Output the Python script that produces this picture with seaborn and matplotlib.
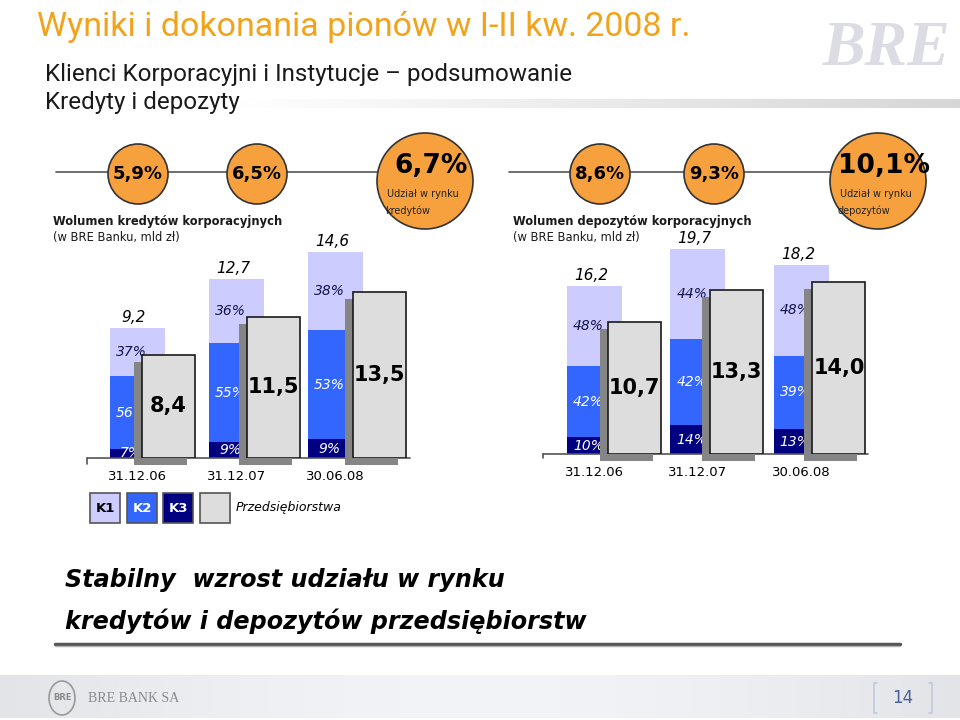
import numpy as np
import matplotlib.pyplot as plt
import matplotlib.transforms as mtransforms
from matplotlib.patches import Circle, Rectangle, Ellipse
import pandas as pd
import seaborn as sns

sns.set_theme(style="white")
plt.rcParams['font.family'] = ['DejaVu Sans']

# dane
daty = ["31.12.06", "31.12.07", "30.06.08"]
kategorie = ["K1", "K2", "K3", "Przedsiębiorstwa"]

# kredyty (mld zł, udzialy K1/K2/K3 w %)
kred_total = [9.2, 12.7, 14.6]
kred_k1 = [37, 36, 38]
kred_k2 = [56, 55, 53]
kred_k3 = [7, 9, 9]
kred_przeds = [8.4, 11.5, 13.5]
kred_udzial = [5.9, 6.5, 6.7]

# depozyty
dep_total = [16.2, 19.7, 18.2]
dep_k1 = [48, 44, 48]
dep_k2 = [42, 42, 39]
dep_k3 = [10, 14, 13]
dep_przeds = [10.7, 13.3, 14.0]
dep_udzial = [8.6, 9.3, 10.1]

W, H = 960, 720
fig = plt.figure(figsize=(9.6, 7.2), dpi=100)
fig.patch.set_facecolor("white")

C_K1, C_K2, C_K3 = "#ccccff", "#3366ff", "#000080"
C_PRZ, C_SHADOW = "#dddddd", "#858585"
ORANGE = "#f7a13e"
HEAD_FONT = ["Roboto", "DejaVu Sans"]


def pl(v):
    return f"{v:.1f}".replace(".", ",")


def px_axes(left, baseline, width, height):
    ax = fig.add_axes([left / W, (H - baseline) / H, width / W, height / H])
    ax.patch.set_alpha(0)
    ax.set_axis_off()
    return ax


def wykres(total, k1, k2, k3, przeds, st_c0, st_sp, st_ppu, pr_c0, pr_sp, baseline, base_end):
    total = np.array(total)
    k2 = np.array(k2)
    k3 = np.array(k3)
    ymax = 22
    ax = px_axes(st_c0 - st_sp / 2, baseline, 3 * st_sp, ymax * st_ppu)
    lower = total * k3 / 100
    middle = total * (k2 + k3) / 100
    bw = 55 / st_sp
    for vals, col in [(total, C_K1), (middle, C_K2), (lower, C_K3)]:
        sns.barplot(x=daty, y=vals, color=col, saturation=1, width=bw, ax=ax,
                    linewidth=0, errorbar=None)
    ax.set_xlim(-0.5, 2.5)
    ax.set_ylim(0, ymax)
    ax.set_axis_off()
    # os pozioma
    ax.axhline(0, xmin=0, xmax=(base_end - (st_c0 - st_sp / 2)) / (3 * st_sp),
               color="#555555", lw=1.2, clip_on=False)
    ax.plot([0, 0], [0, -0.4], transform=ax.get_yaxis_transform(), color="#555555",
            lw=1.2, clip_on=False)
    for i in range(3):
        segs = [(lower[i] / 2, k3[i], "white"),
                ((lower[i] + middle[i]) / 2, k2[i], "white"),
                ((middle[i] + total[i]) / 2, k1[i], "#14144a")]
        for y, p, c in segs:
            ax.annotate(f"{p}%", (i, y), xytext=(-6, 0), textcoords="offset pixels",
                        ha="center", va="center", style="italic", fontsize=10, color=c)
        ax.annotate(pl(total[i]), (i, total[i]), xytext=(-3, 3), textcoords="offset pixels",
                    ha="center", va="bottom", style="italic", fontsize=11, color="black")
        ax.annotate(daty[i], (i, 0), xytext=(0, -19), textcoords="offset pixels",
                    ha="center", va="center", fontsize=9.5, color="black")

    # przedsiebiorstwa z cieniem
    ymax2 = 18
    ax2 = px_axes(pr_c0 - pr_sp / 2, baseline, 3 * pr_sp, ymax2 * 12.3)
    bw2 = 53 / pr_sp
    sns.barplot(x=daty, y=przeds, color=C_SHADOW, saturation=1, width=bw2, ax=ax2,
                linewidth=0, errorbar=None)
    shift = mtransforms.ScaledTranslation(-8 / 100, -7 / 100, fig.dpi_scale_trans)
    for p in ax2.patches:
        p.set_transform(ax2.transData + shift)
        p.set_clip_on(False)
    sns.barplot(x=daty, y=przeds, color=C_PRZ, saturation=1, width=bw2, ax=ax2,
                edgecolor="#1a1a1a", linewidth=1.2, errorbar=None)
    ax2.set_xlim(-0.5, 2.5)
    ax2.set_ylim(0, ymax2)
    ax2.set_axis_off()
    for i, v in enumerate(przeds):
        ax2.text(i, v / 2, pl(v), ha="center", va="center", fontsize=15,
                 fontweight="bold", color="black")


wykres(kred_total, kred_k1, kred_k2, kred_k3, kred_przeds,
       137, 99.3, 14.1, 168, 105.5, 458, 410)
wykres(dep_total, dep_k1, dep_k2, dep_k3, dep_przeds,
       594.5, 103.3, 10.4, 634.5, 102.2, 454, 868)

# warstwa z tekstami i dekoracjami
ov = fig.add_axes([0, 0, 1, 1])
ov.patch.set_alpha(0)
ov.set_axis_off()

# znak wodny w prawym gornym rogu
ov.text(950, 50, "BRE", ha="right", va="center", fontsize=46, fontweight="bold",
        style="italic", family=["Liberation Serif", "DejaVu Serif"], color="#dcdce4")
band = np.ones((2, 200, 4))
band[..., :3] = 0.80
band[..., 3] = np.linspace(0, 0.8, 200)[None, :]
ov.imshow(band, extent=(230, 960, 108, 99), aspect="auto", zorder=0)

ov.text(37, 27, "Wyniki i dokonania pionów w I-II kw. 2008 r.", ha="left", va="center",
        fontsize=24.5, color="#f2a31c", family=HEAD_FONT)
ov.text(45, 74, "Klienci Korporacyjni i Instytucje – podsumowanie", ha="left", va="center",
        fontsize=17.4, color="#1a1a1a", family=HEAD_FONT)
ov.text(45, 103, "Kredyty i depozyty", ha="left", va="center",
        fontsize=17.4, color="#1a1a1a", family=HEAD_FONT)

# kola z udzialem w rynku
def kola(udzial, xs, line_x, dolny):
    ov.plot(line_x, [172, 172], color="#555555", lw=1.2, zorder=1)
    for j, (v, x) in enumerate(zip(udzial, xs)):
        if j < 2:
            ov.add_patch(Circle((x, 174), 30, fc=ORANGE, ec="#333333", lw=1.2, zorder=2))
            ov.text(x, 174, f"{pl(v)}%", ha="center", va="center", fontsize=13,
                    fontweight="bold", color="black", zorder=3)
        else:
            ov.add_patch(Circle((x, 181), 48, fc=ORANGE, ec="#333333", lw=1.2, zorder=2))
            ov.text(x + 6, 166, f"{pl(v)}%", ha="center", va="center", fontsize=19,
                    fontweight="bold", color="black", zorder=3)
            ov.text(x - 38, 194, "Udział w rynku", ha="left", va="center", fontsize=7,
                    color="#222222", zorder=3)
            ov.text(x - 40, 211, dolny, ha="left", va="center", fontsize=7,
                    color="#222222", zorder=3)

kola(kred_udzial, [138, 257, 425], [56, 400], "kredytów")
kola(dep_udzial, [600, 714, 878], [509, 850], "depozytów")

ov.text(53, 221, "Wolumen kredytów korporacyjnych", ha="left", va="center",
        fontsize=8.3, fontweight="bold", color="#1a1a1a")
ov.text(53, 238, "(w BRE Banku, mld zł)", ha="left", va="center", fontsize=8.3, color="#1a1a1a")
ov.text(513, 221, "Wolumen depozytów korporacyjnych", ha="left", va="center",
        fontsize=8.3, fontweight="bold", color="#1a1a1a")
ov.text(513, 238, "(w BRE Banku, mld zł)", ha="left", va="center", fontsize=8.3, color="#1a1a1a")

# legenda
leg_cols = [C_K1, C_K2, C_K3, C_PRZ]
leg_txt = ["black", "white", "white", "black"]
for x, col, lab, tc in zip([90, 127, 163, 200], leg_cols, kategorie, leg_txt):
    ov.add_patch(Rectangle((x, 493), 30, 30, fc=col, ec="#555555", lw=1.2))
    if lab.startswith("K"):
        ov.text(x + 15, 508, lab, ha="center", va="center", fontsize=9.5,
                fontweight="bold", color=tc)
    else:
        ov.text(x + 36, 508, lab, ha="left", va="center", fontsize=9,
                style="italic", color="black")

# wniosek
ov.text(65, 580, "Stabilny  wzrost udziału w rynku", ha="left", va="center",
        fontsize=17.2, fontweight="bold", style="italic", color="black")
ov.text(65, 621, "kredytów i depozytów przedsiębiorstw", ha="left", va="center",
        fontsize=17.2, fontweight="bold", style="italic", color="black")
ov.plot([55, 900], [644, 644], color="#555555", lw=2.5)
ov.plot([55, 900], [646, 646], color="#b0b0b0", lw=1)

# stopka
grad = np.ones((2, 300, 3))
t = np.linspace(0, 1, 300)
shade = 0.89 + 0.06 * np.sin(np.pi * t)
grad[..., 0] = shade[None, :]
grad[..., 1] = shade[None, :] + 0.005
grad[..., 2] = shade[None, :] + 0.02
ov.imshow(np.clip(grad, 0, 1), extent=(0, 960, 718, 675), aspect="auto", zorder=0)
ov.add_patch(Ellipse((62, 698), 26, 34, fc="none", ec="#9a9a9a", lw=1.2))
ov.text(62, 698, "BRE", ha="center", va="center", fontsize=6, color="#8a8a8a",
        fontweight="bold")
ov.text(88, 698, "BRE BANK SA", ha="left", va="center", fontsize=10,
        family=["Liberation Serif", "DejaVu Serif"], color="#8a8a8a")
ov.text(903, 698, "14", ha="center", va="center", fontsize=12, color="#4a5fa0")
ov.plot([877, 874, 874, 877], [683, 683, 713, 713], color="#c0c8dc", lw=1.2)
ov.plot([929, 932, 932, 929], [683, 683, 713, 713], color="#c0c8dc", lw=1.2)

ov.set_xlim(0, W)
ov.set_ylim(H, 0)

plt.savefig("out.png", dpi=100)
